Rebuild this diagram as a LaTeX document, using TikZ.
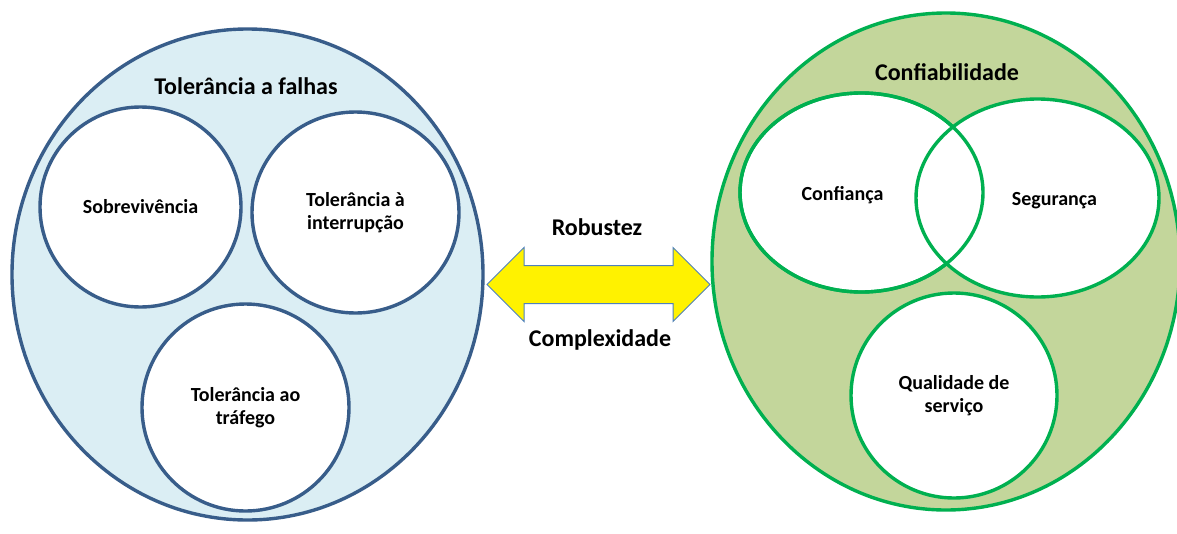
\documentclass[tikz,border=0pt]{standalone}
\usepackage{fontspec}
\setmainfont{Carlito}
\usetikzlibrary{shapes.geometric}
\definecolor{faultblue}{HTML}{385D8A}
\definecolor{faultfill}{HTML}{DBEEF4}
\definecolor{relgreen}{HTML}{00B050}
\definecolor{relfill}{HTML}{C3D69B}
\definecolor{arrowline}{HTML}{4F81BD}
\tikzset{outer/.style={ellipse, draw, line width=3.4pt, inner sep=0pt},
  part/.style={ellipse, draw, fill=white, line width=3.4pt, inner sep=0pt},
  heading/.style={font=\fontsize{24}{28}\selectfont\bfseries},
  caption/.style={font=\fontsize{20}{23}\selectfont\bfseries, align=center}}

\begin{document}
\begin{tikzpicture}[x=1pt,y=-1pt]
  \useasboundingbox[fill=white] (0,0) rectangle (1177,533);
  % fault tolerance
  \node[outer, draw=faultblue, fill=faultfill, minimum width=471, minimum height=491] (fault) at (247.5,274.5) {};
  \node[heading] (faulttitle) at (246,86) {Tolerância a falhas};
  \foreach \x/\y/\w/\h/\name/\lab in {
    140.5/207/201/200/Sobrevivência/surv,
    355.5/212.5/207/201/Tolerância à\\interrupção/disr,
    245.5/407.5/207/207/Tolerância ao\\tráfego/traf%
  } {
    \node[part, draw=faultblue, minimum width=\w, minimum height=\h, caption] (\lab) at (\x, \y) {\name};
  }
  % arrow in between
  \draw[arrowline, fill=yellow, line width=1pt] (487,284.5) -- (524,247.5) -- (524,265.5) -- (673,265.5)
    -- (673,247.5) -- (710,284.5) -- (673,321.5) -- (673,303.5) -- (524,303.5) -- (524,321.5) -- cycle;
  \node[heading] (robust) at (597,227) {Robustez};
  \node[heading] (complex) at (600,340) {Complexidade};
  % dependability
  \node[outer, draw=relgreen, fill=relfill, minimum width=468, minimum height=497] (depend) at (946,261.5) {};
  \node[heading] (dependtitle) at (947,72) {Confiabilidade};
  \node[part, draw=relgreen, minimum width=243, minimum height=199] (trust) at (861.5,192.5) {};
  \node[part, draw=relgreen, minimum width=243, minimum height=198] (safety) at (1037.5,198) {};
  \draw[relgreen, line width=3.4pt] (trust.center) ellipse [x radius=121.5, y radius=99.5];
  \node[caption] (trusttext) at ([xshift=-19pt,yshift=-3pt]trust.center) {Confiança};
  \node[caption] (safetytext) at ([xshift=17pt,yshift=-3pt]safety.center) {Segurança};
  \node[part, draw=relgreen, minimum width=206, minimum height=205, caption] (qos) at (954,395.5) {Qualidade de\\serviço};
\end{tikzpicture}
\end{document}
